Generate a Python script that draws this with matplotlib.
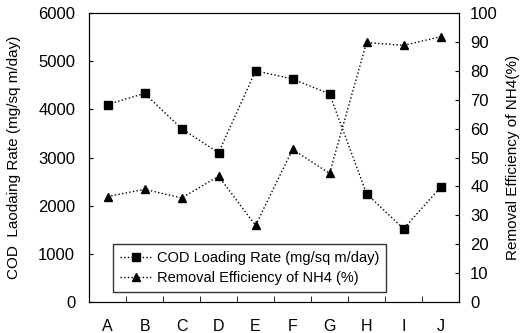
import matplotlib.pyplot as plt

plt.rcParams['font.family'] = ['Liberation Sans', 'DejaVu Sans']

categorias = ['A', 'B', 'C', 'D', 'E', 'F', 'G', 'H', 'I', 'J']
cod = [4100, 4330, 3600, 3100, 4800, 4630, 4320, 2250, 1520, 2380]
nh4 = [36.5, 39, 36, 43.5, 26.5, 52.8, 44.5, 89.8, 88.8, 91.8]

x = list(range(len(categorias)))

fig = plt.figure(figsize=(5.24, 3.33), dpi=100)
ax = fig.add_axes([0.170, 0.093, 0.706, 0.868])
ax2 = ax.twinx()

l1, = ax.plot(x, cod, linestyle=':', color='black', marker='s', markersize=6,
              linewidth=1, label='COD Loading Rate (mg/sq m/day)')
l2, = ax2.plot(x, nh4, linestyle=':', color='black', marker='^', markersize=6,
               linewidth=1, label='Removal Efficiency of NH4 (%)')

ax.set_xlim(-0.5, 9.5)
ax.set_ylim(0, 6000)
ax2.set_ylim(0, 100)

ax.set_xticks(x)
ax.set_xticklabels(categorias, fontsize=11.5)
ax.set_xticks([i + 0.5 for i in range(9)], minor=True)
ax.tick_params(axis='x', which='major', length=0, pad=12)
ax.tick_params(axis='x', which='minor', direction='in', length=4)
ax.set_yticks(range(0, 6001, 1000))
ax.tick_params(axis='y', direction='in', length=3, labelsize=12, pad=10)
ax2.set_yticks(range(0, 101, 10))
ax2.tick_params(axis='y', direction='in', length=3, labelsize=12, pad=8)

ax.set_ylabel('COD  Laodaing Rate (mg/sq m/day)', fontsize=11, labelpad=12)
ax2.set_ylabel('Removal Efficiency of NH4(%)', fontsize=11, labelpad=6)

leg = ax.legend(handles=[l1, l2], loc='lower left', bbox_to_anchor=(0.045, 0.01),
                fontsize=10.5, frameon=True, fancybox=False, edgecolor='black',
                handlelength=2.2, handletextpad=0.4, borderpad=0.45,
                labelspacing=0.45)
leg.get_frame().set_linewidth(1)

fig.savefig('out.png', dpi=100)
